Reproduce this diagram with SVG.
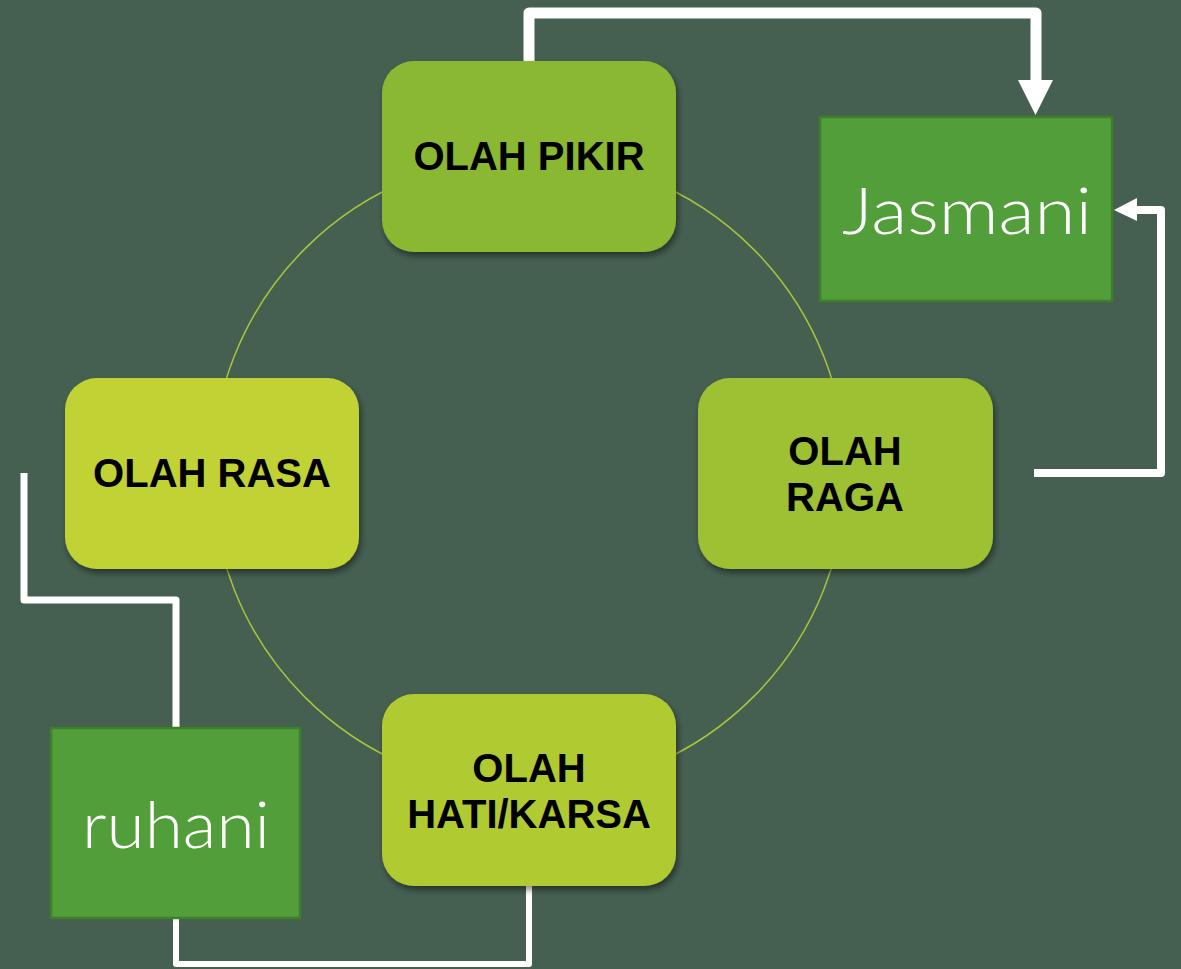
<svg xmlns="http://www.w3.org/2000/svg" width="1181" height="969" viewBox="0 0 1181 969">
<style>
.node{stroke:none;filter:url(#sh)}
.lbl{font-family:"Liberation Sans",Arial,sans-serif;font-weight:bold;font-size:40px;fill:#000;text-anchor:middle}
.box{fill:#529e3a;stroke:#3f7f2b;stroke-width:2.5}
.btxt{font-family:"Lato","Open Sans","Liberation Sans",sans-serif;font-weight:300;fill:#fff;text-anchor:middle}
.con{fill:none;stroke:#fff;stroke-linejoin:round;stroke-linecap:butt}
</style>
<defs>
<filter id="sh" x="-10%" y="-10%" width="125%" height="130%">
<feGaussianBlur in="SourceAlpha" stdDeviation="3"/>
<feOffset dx="2" dy="4" result="b"/>
<feComponentTransfer><feFuncA type="linear" slope="0.45"/></feComponentTransfer>
<feMerge><feMergeNode/><feMergeNode in="SourceGraphic"/></feMerge>
</filter>
</defs>
<rect width="1181" height="969" fill="#455f51"/>
<circle cx="529" cy="473" r="317" fill="none" stroke="#a9c63b" stroke-width="1.5"/>
<g id="connectors">
<path class="con" stroke-width="11" d="M529,62 V13 H1036 V82"/>
<polygon points="1018,80 1053,80 1035.5,115" fill="#fff"/>
<path class="con" stroke-width="8" d="M1034,473 H1161 V210 H1132"/>
<polygon points="1137,198 1137,221 1114,210" fill="#fff"/>
<path class="con" stroke-width="7" d="M24,473 V600 H176 V727"/>
<path class="con" stroke-width="6" d="M176,918 V964 H529 V886"/>
</g>
<g id="olah-pikir">
<rect class="node" x="382" y="61" width="294" height="191" rx="32" fill="#8bb833"/>
<text class="lbl" x="529" y="170">OLAH PIKIR</text>
</g>
<g id="olah-raga">
<rect class="node" x="698" y="378" width="295" height="191" rx="32" fill="#9dc132"/>
<text class="lbl" x="845" y="465">OLAH</text>
<text class="lbl" x="845" y="511">RAGA</text>
</g>
<g id="olah-hati">
<rect class="node" x="382" y="694" width="294" height="192" rx="32" fill="#b0cb31"/>
<text class="lbl" x="529" y="782">OLAH</text>
<text class="lbl" x="529" y="828">HATI/KARSA</text>
</g>
<g id="olah-rasa">
<rect class="node" x="65" y="378" width="294" height="191" rx="32" fill="#c1d235"/>
<text class="lbl" x="212" y="487">OLAH RASA</text>
</g>
<g id="jasmani">
<rect class="box" x="820" y="117" width="292" height="184"/>
<text class="btxt" x="967" y="234" font-size="65" textLength="250" lengthAdjust="spacingAndGlyphs">Jasmani</text>
</g>
<g id="ruhani">
<rect class="box" x="51" y="728" width="249" height="190"/>
<text class="btxt" x="176" y="848" font-size="65" textLength="188" lengthAdjust="spacingAndGlyphs">ruhani</text>
</g>
</svg>
